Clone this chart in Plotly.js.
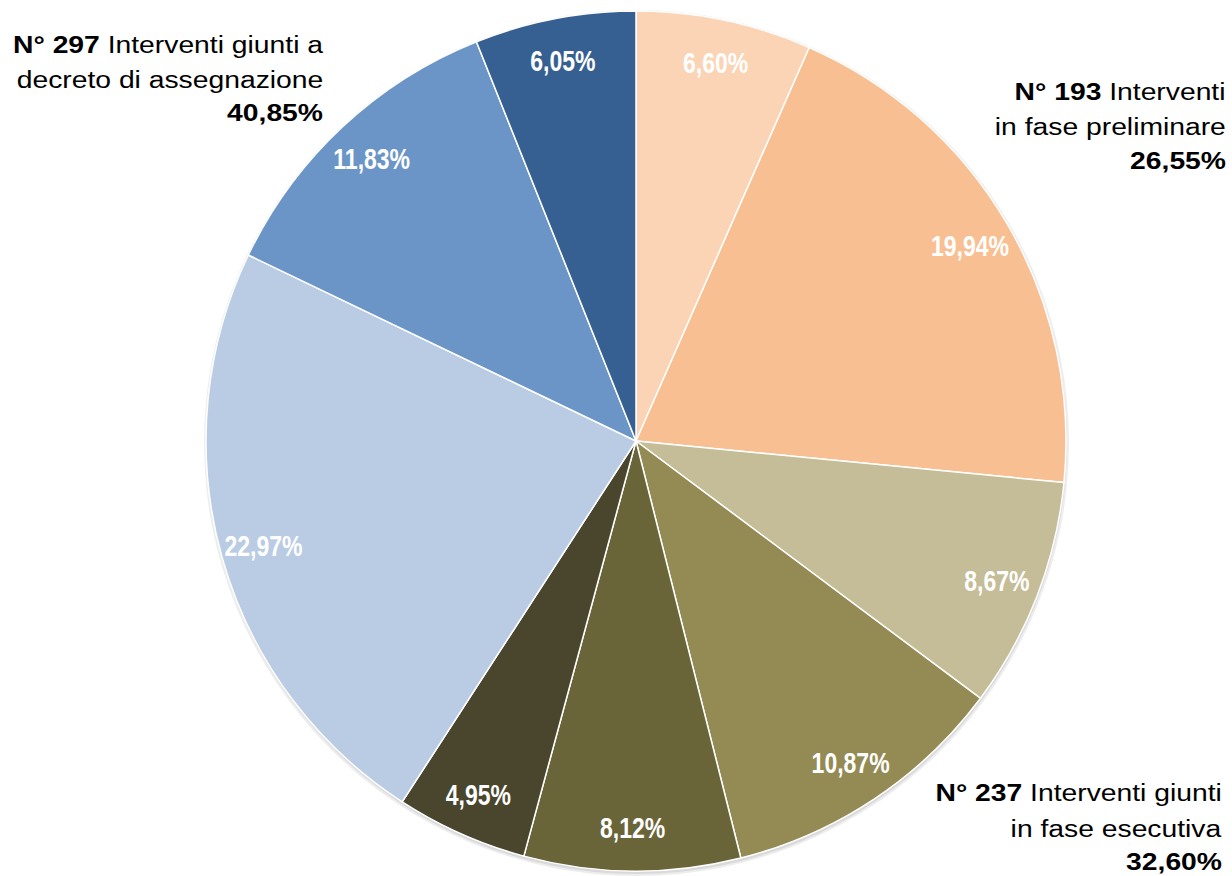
<!DOCTYPE html>
<html>
<head>
<meta charset="utf-8">
<script src="https://cdn.plot.ly/plotly-3.0.1.min.js"></script>
<style>html,body{margin:0;padding:0;background:#fff;}#chart{width:1232px;height:876px;}</style>
</head>
<body>
<div id="chart"></div>
<script>
const sliceNames = ["Preliminare A","Preliminare B","Esecutiva A","Esecutiva B","Esecutiva C","Esecutiva D","Decreto A","Decreto B","Decreto C"];
const sliceValues = [6.60, 19.94, 8.67, 10.87, 8.12, 4.95, 22.97, 11.83, 6.05];
const sliceColors = ["#FAD4B5","#F8C092","#C4BD97","#948A54","#6A6439","#4A452D","#B9CCE4","#6C95C7","#376092"];

const groupLines = [
  ["<b>N° 297</b> Interventi giunti a", "decreto di assegnazione", "<b>40,85%</b>"],
  ["<b>N° 193</b> Interventi", "in fase preliminare", "<b>26,55%</b>"],
  ["<b>N° 237</b> Interventi giunti", "in fase esecutiva", "<b>32,60%</b>"]
];
const groupRightX = [325, 1228, 1224];
const groupLineY = [[45, 80, 113], [92, 127, 161], [793, 829, 862]];

const W = 1232, H = 876;
const annotations = [];
groupLines.forEach((lines, g) => {
  lines.forEach((t, i) => {
    annotations.push({
      xref: 'paper', yref: 'paper',
      x: groupRightX[g] / W, y: 1 - groupLineY[g][i] / H,
      xanchor: 'right', yanchor: 'middle',
      text: t, showarrow: false,
      font: {family: 'Liberation Sans, Arial, sans-serif', size: 23, color: '#000'}
    });
  });
});

const cx = 636, cy = 441, r = 430;
const dom = {x: [(cx - r) / W, (cx + r) / W], y: [1 - (cy + r) / H, 1 - (cy - r) / H]};

const pieTrace = {
  type: 'pie',
  labels: sliceNames,
  values: sliceValues,
  sort: false,
  direction: 'clockwise',
  rotation: 0,
  marker: {colors: sliceColors, line: {color: '#ffffff', width: 1.5}},
  textinfo: 'none',
  hoverinfo: 'label+value',
  showlegend: false,
  domain: dom
};
// transparent ring carrying the percentage labels near the rim
const labelTrace = {
  type: 'pie',
  labels: sliceNames,
  values: sliceValues,
  sort: false,
  direction: 'clockwise',
  rotation: 0,
  hole: 0.8,
  marker: {colors: sliceValues.map(() => 'rgba(0,0,0,0)'), line: {width: 0}},
  texttemplate: '%{value:.2f}%',
  textposition: 'inside',
  insidetextorientation: 'horizontal',
  textfont: {family: 'Liberation Sans, Arial, sans-serif', size: 23, color: '#ffffff', weight: 'bold'},
  hoverinfo: 'skip',
  showlegend: false,
  domain: dom
};

const shapes = [
  {type: 'circle', xref: 'paper', yref: 'paper', layer: 'below',
   x0: (cx - r - 2) / W, x1: (cx + r + 3) / W, y0: 1 - (cy + r + 5) / H, y1: 1 - (cy - r - 1) / H,
   fillcolor: '#ededed', line: {width: 0}},
  {type: 'circle', xref: 'paper', yref: 'paper', layer: 'below',
   x0: (cx - r) / W, x1: (cx + r + 1) / W, y0: 1 - (cy + r + 3) / H, y1: 1 - (cy - r) / H,
   fillcolor: '#d9d9d9', line: {width: 0}}
];

const layout = {
  width: W, height: H,
  margin: {l: 0, r: 0, t: 0, b: 0},
  paper_bgcolor: '#fff',
  separators: ',.',
  showlegend: false,
  annotations: annotations,
  shapes: shapes
};

function stretch(sel, sx, sy, anchor) {
  document.querySelectorAll(sel).forEach(t => {
    const b = t.getBBox();
    const px = anchor === 'right' ? b.x + b.width : b.x + b.width / 2;
    const py = b.y + b.height / 2;
    const tr = t.getAttribute('transform') || '';
    t.setAttribute('transform', tr + ' translate(' + px + ',' + py + ') scale(' + sx + ',' + sy + ') translate(' + (-px) + ',' + (-py) + ')');
  });
}

Plotly.newPlot('chart', [pieTrace, labelTrace], layout, {displayModeBar: false}).then(() => {
  stretch('text.annotation-text', 1.23, 1, 'right');
  stretch('g.slicetext text', 1, 1.28, 'center');
});
</script>
</body>
</html>
